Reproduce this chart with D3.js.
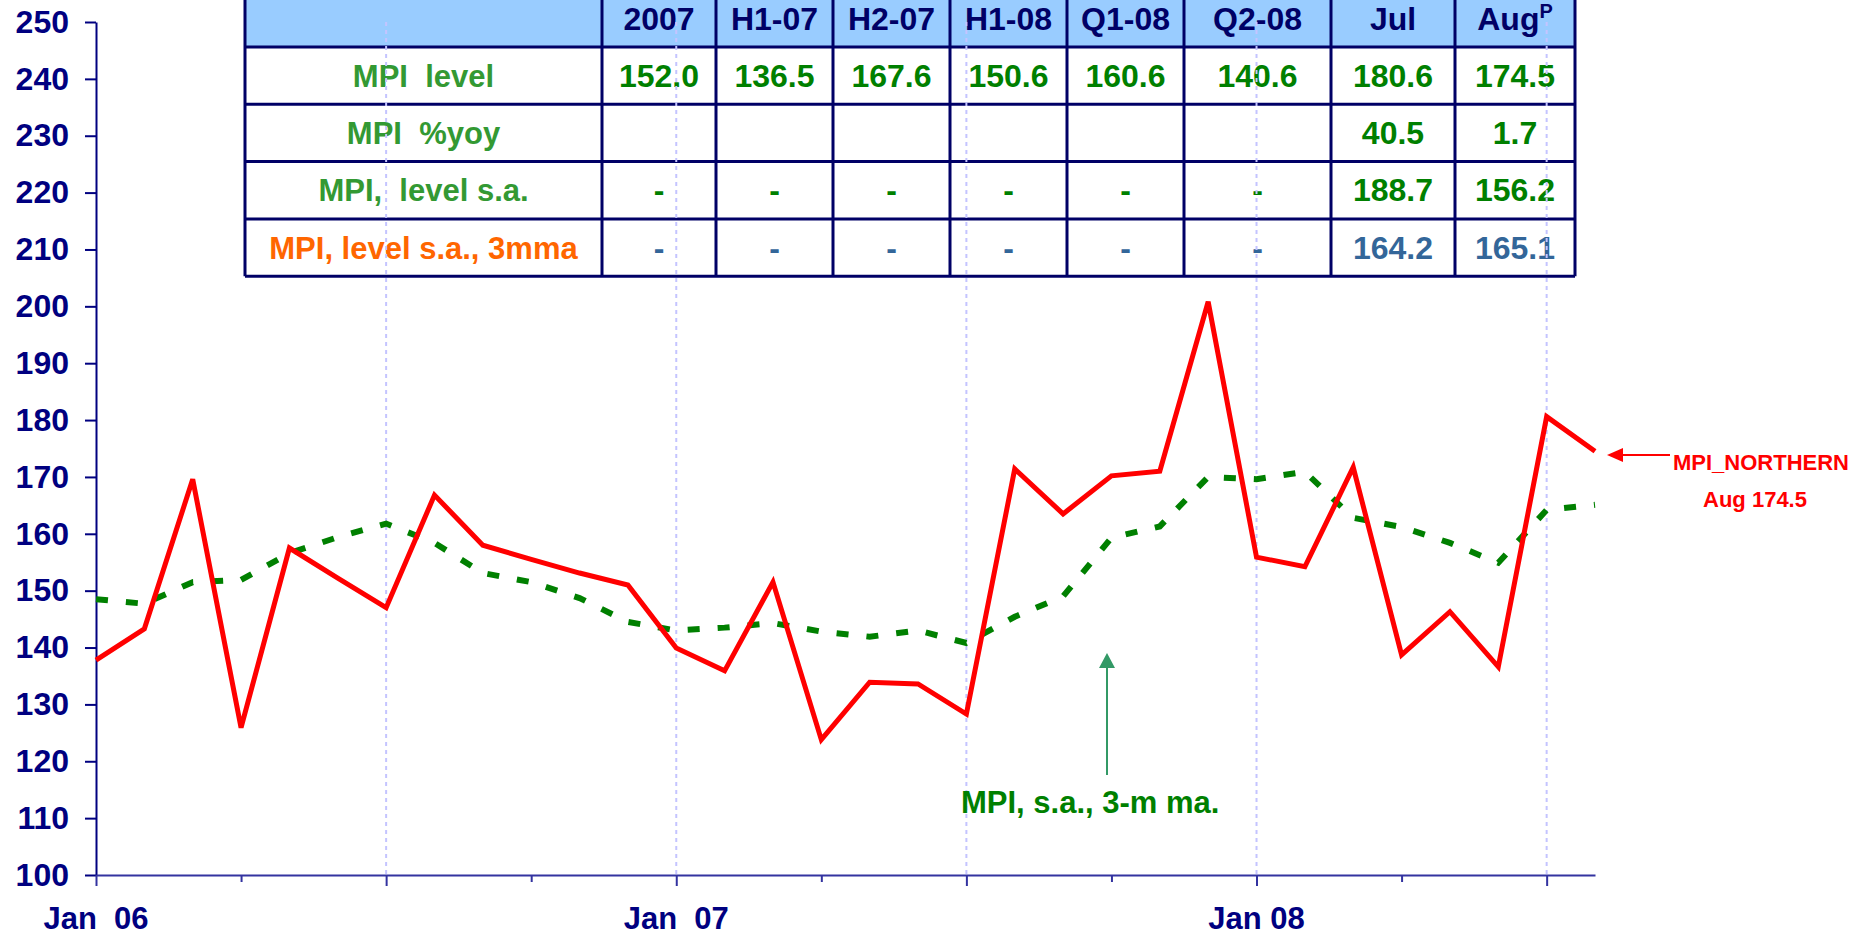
<!DOCTYPE html>
<html>
<head>
<meta charset="UTF-8">
<script src="https://d3js.org/d3.v7.min.js"></script>
<title>MPI Northern</title>
<style>
  body { margin: 0; background: #fff; }
  text { font-family: "Liberation Sans", Arial, sans-serif; font-weight: bold; white-space: pre; }
</style>
</head>
<body>
<div id="chart"></div>
<script>
// monthly categories Jan 06 .. Aug 08
var months = d3.timeMonth.range(new Date(2006, 0, 1), new Date(2008, 8, 1));
var xLabels = ["Jan  06", "Jan  07", "Jan 08"];
var xLabelIdx = [0, 12, 24];

// MPI northern, level (red)
var mpiLevel = [137.8, 143.3, 169.6, 125.9, 157.5, 152.2, 147.0, 166.8, 158.0, 155.5, 153.1, 151.0,
                139.9, 135.9, 151.5, 123.8, 133.9, 133.6, 128.3, 171.4, 163.5, 170.2, 171.0, 200.8,
                155.9, 154.2, 171.7, 138.7, 146.3, 136.6, 180.6, 174.5];
// MPI s.a., 3-month moving average (green dashed)
var mpiSa3m = [148.5, 147.7, 151.5, 151.9, 156.6, 159.4, 161.8, 158.4, 153.1, 151.5, 148.7, 144.5,
               143.0, 143.5, 144.3, 142.8, 141.9, 143.0, 140.8, 145.4, 149.0, 159.3, 161.3, 170.0,
               169.6, 170.9, 162.8, 161.2, 158.4, 154.9, 164.2, 165.1];

var yTicks = d3.range(100, 251, 10);

// table
var colHeads = ["", "2007", "H1-07", "H2-07", "H1-08", "Q1-08", "Q2-08", "Jul", "Aug"];
var rowLabels = ["MPI  level", "MPI  %yoy", "MPI,  level s.a.", "MPI, level s.a., 3mma"];
var rowLevel = ["152.0", "136.5", "167.6", "150.6", "160.6", "140.6", "180.6", "174.5"];
var rowYoy = ["", "", "", "", "", "", "40.5", "1.7"];
var rowSa = ["-", "-", "-", "-", "-", "-", "188.7", "156.2"];
var row3mma = ["-", "-", "-", "-", "-", "-", "164.2", "165.1"];

var width = 1863, height = 939;
var margin = {left: 96, top: 22, right: 268, bottom: 64};
var plotRight = width - margin.right, plotBottom = height - margin.bottom;

var svg = d3.select("#chart").append("svg")
  .attr("width", width).attr("height", height)
  .attr("xml:space", "preserve");

var x = d3.scaleLinear().domain([0, months.length - 1]).range([margin.left, plotRight]);
var y = d3.scaleLinear().domain([100, 250]).range([plotBottom, margin.top]);

// ---- table (behind the grid lines)
var colEdges = [245, 602, 716, 833, 950, 1067, 1184, 1331, 1455, 1575];
var rowEdges = [-10, 47, 104.3, 161.6, 218.9, 276.2];
var tbl = svg.append("g");
tbl.append("rect").attr("x", colEdges[0]).attr("y", rowEdges[0])
  .attr("width", colEdges[9] - colEdges[0]).attr("height", rowEdges[1] - rowEdges[0])
  .attr("fill", "#99ccff");
rowEdges.slice(1).forEach(function(r) {
  tbl.append("line").attr("x1", colEdges[0]).attr("x2", colEdges[9]).attr("y1", r).attr("y2", r)
    .attr("stroke", "#000066").attr("stroke-width", 3);
});
colEdges.forEach(function(c) {
  tbl.append("line").attr("x1", c).attr("x2", c).attr("y1", rowEdges[0]).attr("y2", rowEdges[5])
    .attr("stroke", "#000066").attr("stroke-width", 3);
});
function cx(i) { return (colEdges[i] + colEdges[i + 1]) / 2; }
function cy(r) { return (rowEdges[r] + rowEdges[r + 1]) / 2 + 11; }

colHeads.forEach(function(h, i) {
  if (!h) return;
  var t = tbl.append("text").attr("x", cx(i)).attr("y", cy(0)).attr("text-anchor", "middle")
    .attr("font-size", 32).attr("fill", "#000066").text(h);
  if (h == "Aug") t.append("tspan").attr("dy", -12).attr("font-size", 20).text("P");
});
var rowVals = [rowLevel, rowYoy, rowSa, row3mma];
var labelCol = ["#339933", "#339933", "#339933", "#ff6600"];
var valCol = ["#008000", "#008000", "#008000", "#336699"];
rowLabels.forEach(function(l, r) {
  tbl.append("text").attr("x", cx(0)).attr("y", cy(r + 1)).attr("text-anchor", "middle")
    .attr("font-size", 31).attr("fill", labelCol[r]).text(l);
  rowVals[r].forEach(function(v, i) {
    tbl.append("text").attr("x", cx(i + 1)).attr("y", cy(r + 1)).attr("text-anchor", "middle")
      .attr("font-size", 32).attr("fill", valCol[r]).text(v);
  });
});

// ---- vertical dashed grid every 6 months
svg.append("g").selectAll("line")
  .data(d3.range(6, months.length, 6))
  .join("line")
  .attr("x1", function(d) { return x(d); }).attr("x2", function(d) { return x(d); })
  .attr("y1", margin.top).attr("y2", plotBottom)
  .attr("stroke", "#c4c4ff").attr("stroke-width", 2).attr("stroke-dasharray", "4,4");

// ---- axes
var yAxis = d3.axisLeft(y).tickValues(yTicks).tickSize(11).tickPadding(16).tickSizeOuter(0);
var gy = svg.append("g").attr("transform", "translate(" + margin.left + ",0)").call(yAxis);
gy.select(".domain").attr("stroke", "#000080").attr("stroke-width", 2);
gy.selectAll(".tick line").attr("stroke", "#000080").attr("stroke-width", 2);
gy.selectAll(".tick text").attr("font-size", 32).attr("fill", "#000080")
  .attr("font-family", null).attr("font-weight", "bold");

var xAxis = d3.axisBottom(x).tickValues(d3.range(0, months.length, 3)).tickSize(11)
  .tickFormat("").tickSizeOuter(0);
var gx = svg.append("g").attr("transform", "translate(0," + plotBottom + ")").call(xAxis);
gx.select(".domain").attr("stroke", "#3333a0").attr("stroke-width", 2);
gx.selectAll(".tick line").attr("stroke", "#3333a0").attr("stroke-width", 2)
  .attr("y2", function(d) { return d % 6 == 0 ? 11 : 7; });

svg.append("g").selectAll("text")
  .data(xLabelIdx)
  .join("text")
  .attr("x", function(d) { return x(d); }).attr("y", 929)
  .attr("text-anchor", "middle").attr("font-size", 31).attr("fill", "#000080")
  .text(function(d, i) { return xLabels[i]; });

// ---- series
var line = d3.line().x(function(d, i) { return x(i); }).y(function(d) { return y(d); });

svg.append("path").attr("d", line(mpiSa3m))
  .attr("fill", "none").attr("stroke", "#008000").attr("stroke-width", 6)
  .attr("stroke-dasharray", "12,18");

svg.append("path").attr("d", line(mpiLevel))
  .attr("fill", "none").attr("stroke", "#ff0000").attr("stroke-width", 5)
  .attr("stroke-linejoin", "miter");

// ---- annotations
svg.append("line").attr("x1", 1107).attr("x2", 1107).attr("y1", 775).attr("y2", 665)
  .attr("stroke", "#339966").attr("stroke-width", 2);
svg.append("path").attr("d", "M1107,653 L1115,668 L1099,668 Z").attr("fill", "#339966");
svg.append("text").attr("x", 961).attr("y", 813).attr("font-size", 31).attr("fill", "#008000")
  .text("MPI, s.a., 3-m ma.");

svg.append("line").attr("x1", 1670).attr("x2", 1620).attr("y1", 455).attr("y2", 455)
  .attr("stroke", "#ff0000").attr("stroke-width", 2);
svg.append("path").attr("d", "M1607,455 L1623,448 L1623,462 Z").attr("fill", "#ff0000");
svg.append("text").attr("x", 1761).attr("y", 470).attr("text-anchor", "middle")
  .attr("font-size", 22).attr("fill", "#ff0000").text("MPI_NORTHERN");
svg.append("text").attr("x", 1755).attr("y", 507).attr("text-anchor", "middle")
  .attr("font-size", 22).attr("fill", "#ff0000").text("Aug 174.5");
</script>
</body>
</html>
